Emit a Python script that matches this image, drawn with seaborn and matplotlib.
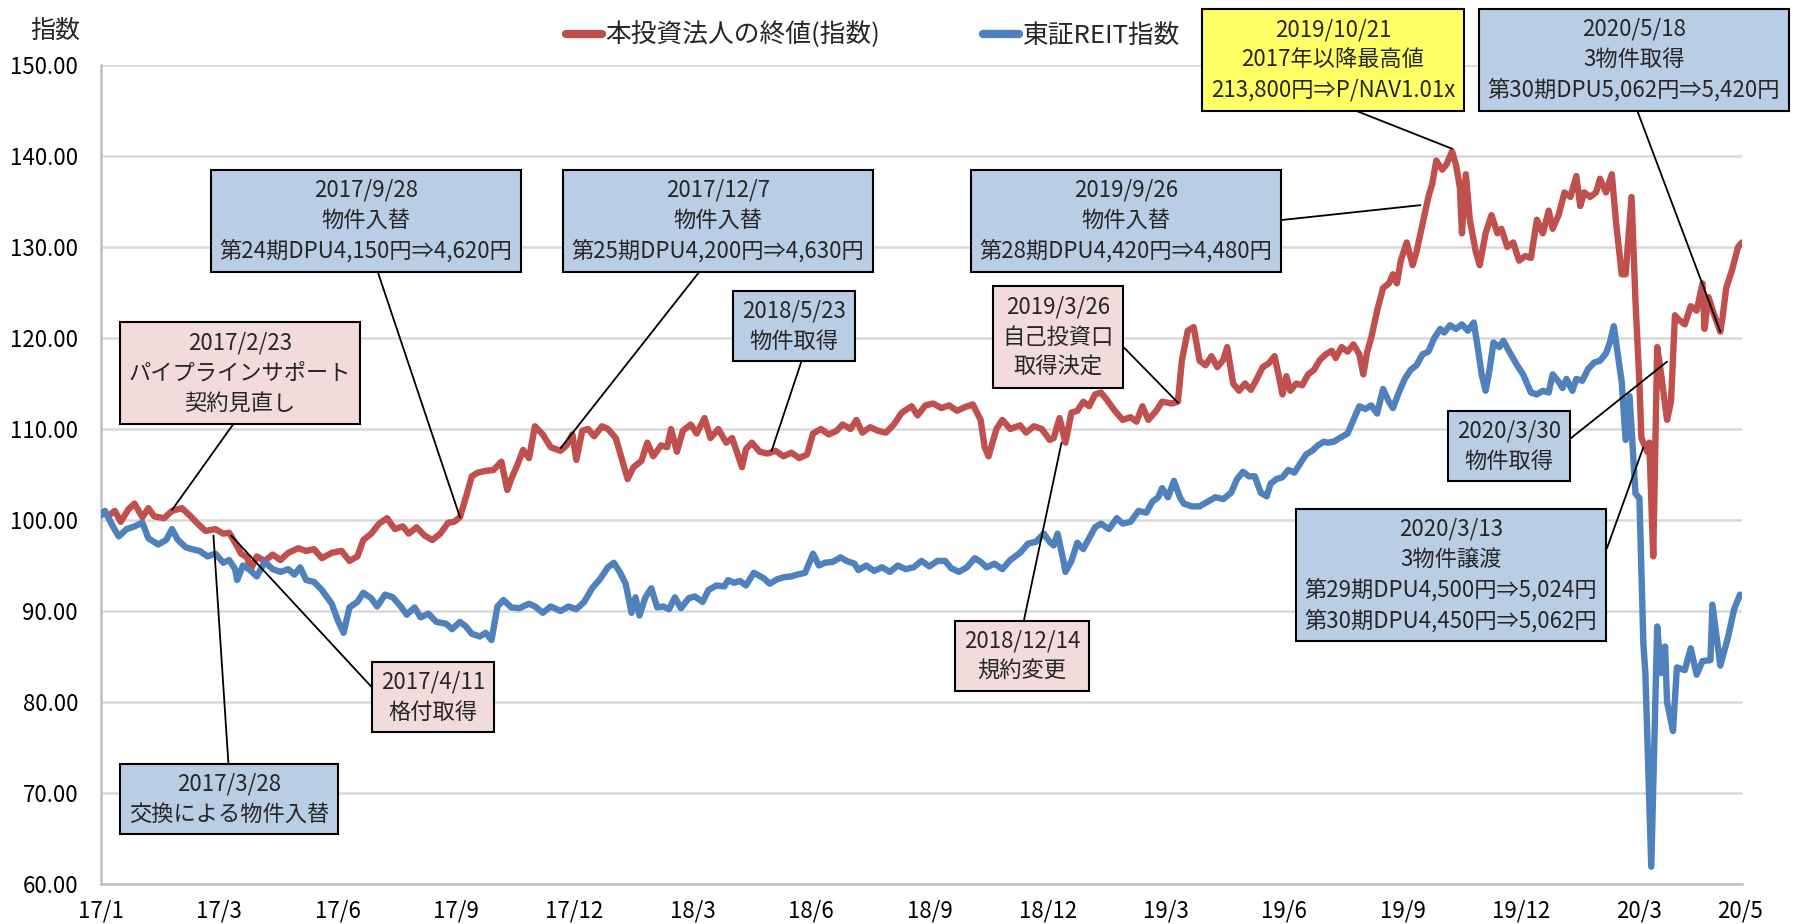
import matplotlib
matplotlib.use("Agg")
import matplotlib.pyplot as plt
import seaborn as sns
import pandas as pd
from matplotlib.ticker import FuncFormatter

# 見た目の設定
sns.set_theme(style="whitegrid")
plt.rcParams['font.family'] = ['Noto Sans CJK JP', 'DejaVu Sans']

# --- データ (営業日番号, 指数) ---
red_day = [0, 4, 7, 10, 14, 17, 21, 24, 27, 32, 36, 41, 45, 49, 53, 58, 62, 65, 68, 71,
           74, 76, 79, 83, 87, 91, 95, 100, 104, 108, 112, 117, 122, 126, 130, 133, 137, 141, 145, 149,
           153, 156, 160, 164, 168, 172, 176, 179, 182, 185, 188, 191, 195, 199, 203, 206, 208, 211, 214, 217,
           220, 224, 228, 233, 236, 239, 241, 244, 247, 250, 254, 257, 261, 265, 267, 270, 274, 277, 280, 284,
           287, 289, 292, 295, 299, 302, 306, 309, 313, 317, 320, 325, 327, 330, 334, 338, 342, 346, 350, 354,
           358, 361, 365, 369, 373, 376, 380, 383, 386, 390, 394, 398, 402, 406, 411, 414, 418, 422, 426, 430,
           434, 438, 442, 446, 448, 450, 454, 457, 461, 466, 469, 473, 477, 481, 483, 486, 489, 492, 495, 498,
           501, 504, 507, 510, 514, 518, 522, 525, 528, 531, 535, 538, 543, 546, 548, 551, 554, 557, 560, 563,
           566, 569, 571, 574, 577, 580, 583, 586, 589, 592, 595, 597, 599, 601, 603, 606, 609, 612, 615, 618,
           621, 624, 626, 629, 632, 635, 638, 640, 642, 644, 647, 650, 653, 655, 657, 659, 662, 665, 667, 670,
           673, 675, 677, 680, 682, 685, 687, 689, 690, 692, 694, 697, 699, 702, 705, 708, 710, 713, 716, 719,
           722, 725, 728, 731, 734, 736, 739, 742, 745, 748, 750, 752, 755, 758, 760, 763, 766, 768, 771, 773,
           776, 778, 780, 781, 784, 785, 787, 789, 791, 794, 796, 798, 800, 803, 806, 809, 812, 813, 815, 818,
           821, 822, 824, 827, 830, 832]
red_val = [100.8, 100.5, 101.0, 99.8, 101.2, 101.8, 100.3, 101.3, 100.4, 100.2, 101.0, 101.3, 100.5, 99.6, 98.8, 99.0, 98.5, 98.6, 97.5, 96.3,
           95.9, 94.6, 96.0, 95.5, 96.2, 95.6, 96.4, 96.9, 96.6, 96.8, 95.8, 96.4, 96.6, 95.5, 96.0, 97.8, 98.5, 99.6, 100.2, 99.0,
           99.3, 98.5, 99.2, 98.3, 97.8, 98.5, 99.7, 99.8, 100.3, 102.5, 104.8, 105.2, 105.4, 105.5, 106.4, 103.3, 104.5, 106.0, 107.7, 106.8,
           110.3, 109.4, 108.0, 107.6, 108.2, 109.4, 106.6, 109.8, 110.0, 109.2, 110.3, 110.0, 109.0, 106.0, 104.5, 105.8, 106.5, 108.5, 107.0, 108.2,
           108.0, 110.0, 107.5, 109.8, 110.5, 109.5, 111.2, 109.0, 110.0, 108.5, 109.0, 105.8, 107.8, 108.5, 107.5, 107.3, 107.6, 107.0, 107.4, 106.8,
           107.2, 109.5, 110.0, 109.4, 109.8, 110.5, 110.0, 111.0, 109.6, 110.2, 109.8, 109.6, 110.5, 111.8, 112.5, 111.5, 112.6, 112.8, 112.3, 112.6,
           112.0, 112.4, 112.7, 111.0, 108.0, 107.0, 110.0, 111.0, 110.0, 110.4, 109.6, 110.3, 110.0, 108.8, 109.0, 111.2, 108.5, 111.8, 112.0, 113.0,
           112.5, 113.8, 114.0, 113.2, 112.0, 111.0, 111.3, 110.8, 112.5, 111.0, 112.0, 113.0, 112.8, 113.0, 117.5, 120.8, 121.2, 117.5, 117.0, 118.0,
           116.8, 117.6, 119.0, 115.0, 114.2, 115.0, 114.3, 115.5, 116.8, 117.2, 118.0, 116.0, 113.8, 115.8, 114.2, 115.0, 114.8, 116.0, 116.5, 117.6,
           118.2, 118.6, 117.8, 119.0, 118.5, 119.3, 118.2, 116.0, 118.5, 120.0, 123.0, 125.5, 126.0, 127.0, 126.0, 128.5, 130.5, 128.0, 129.5, 132.5,
           135.5, 137.0, 139.5, 138.5, 139.0, 140.5, 139.0, 136.5, 131.5, 138.0, 133.0, 129.5, 128.0, 131.5, 133.5, 131.5, 132.0, 130.0, 130.5, 128.5,
           129.0, 128.8, 133.0, 131.5, 134.0, 132.0, 133.5, 136.0, 135.5, 137.8, 134.5, 136.0, 135.5, 136.0, 137.5, 136.0, 138.0, 133.0, 127.0, 127.0,
           135.5, 124.0, 115.0, 109.0, 107.5, 108.5, 96.0, 119.0, 116.0, 111.0, 113.0, 122.5, 122.0, 121.5, 123.5, 123.0, 126.0, 121.0, 124.5, 122.5,
           120.7, 122.0, 125.5, 127.5, 130.0, 130.5]

reit_day = [0, 2, 6, 9, 13, 17, 21, 24, 29, 33, 36, 39, 43, 46, 50, 54, 58, 62, 65, 68,
            69, 72, 75, 79, 83, 87, 91, 95, 98, 101, 104, 108, 112, 117, 120, 123, 126, 130, 133, 137,
            140, 144, 148, 152, 155, 159, 162, 166, 170, 175, 178, 182, 185, 188, 192, 195, 198, 201, 204, 208,
            212, 217, 220, 224, 228, 233, 237, 241, 245, 249, 253, 257, 260, 263, 266, 269, 271, 273, 276, 279,
            282, 285, 288, 291, 294, 298, 301, 305, 308, 312, 316, 318, 321, 324, 327, 331, 336, 339, 343, 346,
            350, 353, 357, 361, 364, 367, 371, 375, 378, 382, 384, 388, 392, 396, 400, 404, 408, 412, 416, 420,
            424, 428, 431, 435, 439, 443, 446, 449, 453, 457, 461, 466, 470, 474, 478, 481, 483, 485, 488, 489,
            492, 495, 498, 501, 504, 507, 511, 515, 518, 522, 526, 530, 533, 536, 538, 541, 544, 547, 549, 553,
            557, 561, 565, 569, 573, 576, 579, 582, 585, 588, 591, 593, 596, 599, 602, 605, 608, 611, 614, 617,
            620, 622, 625, 628, 632, 635, 638, 641, 644, 647, 650, 653, 655, 658, 661, 664, 667, 670, 673, 676,
            679, 681, 684, 687, 690, 693, 696, 698, 700, 702, 704, 706, 709, 711, 714, 718, 721, 725, 728, 731,
            734, 736, 739, 741, 743, 746, 748, 751, 754, 757, 760, 763, 765, 767, 771, 773, 775, 778, 780, 782,
            783, 786, 789, 791, 793, 794, 797, 799, 803, 806, 809, 812, 816, 817, 821, 825, 828, 831]
reit_val = [100.5, 101.0, 99.3, 98.2, 99.0, 99.3, 99.7, 98.0, 97.3, 97.8, 99.0, 97.8, 97.0, 96.8, 96.6, 96.0, 96.3, 95.3, 95.6, 94.6,
            93.4, 95.0, 94.6, 93.8, 95.4, 94.6, 94.3, 94.6, 94.0, 94.8, 93.4, 93.2, 92.3, 90.8, 89.0, 87.6, 90.4, 91.0, 92.0, 91.4,
            90.5, 91.8, 91.5, 90.5, 89.6, 90.4, 89.3, 89.7, 88.8, 88.6, 88.0, 88.8, 88.3, 87.5, 87.2, 87.6, 86.8, 90.5, 91.2, 90.4,
            90.3, 90.8, 90.5, 89.8, 90.5, 90.0, 90.5, 90.2, 91.0, 92.5, 93.5, 94.8, 95.3, 94.3, 93.0, 89.8, 91.5, 89.5, 91.5, 92.5,
            90.4, 90.5, 90.2, 91.5, 90.3, 91.4, 91.6, 91.0, 92.3, 92.8, 92.7, 93.4, 93.1, 93.3, 92.8, 94.2, 93.6, 93.0, 93.5, 93.7,
            93.8, 94.0, 94.2, 96.3, 95.0, 95.3, 95.4, 95.9, 95.5, 95.2, 94.5, 95.0, 94.4, 94.8, 94.3, 95.0, 94.6, 94.8, 95.5, 94.9,
            95.5, 95.5, 94.7, 94.3, 94.8, 95.8, 95.4, 94.8, 95.2, 94.6, 95.6, 96.4, 97.4, 97.6, 98.5, 97.6, 97.2, 98.5, 95.5, 94.3,
            95.5, 97.5, 96.8, 98.0, 99.2, 99.6, 99.0, 100.2, 99.6, 99.8, 101.0, 100.8, 102.0, 102.5, 103.5, 102.5, 104.3, 102.5, 101.8, 101.5,
            101.5, 102.0, 102.5, 102.3, 103.0, 104.5, 105.3, 104.8, 104.8, 103.0, 102.6, 104.0, 104.5, 104.7, 105.5, 105.2, 106.2, 107.2, 107.6, 108.2,
            108.6, 108.5, 108.6, 109.0, 109.5, 111.0, 112.5, 112.2, 112.6, 111.7, 114.4, 113.0, 112.3, 114.0, 115.5, 116.5, 117.0, 118.2, 118.5, 120.0,
            121.0, 120.6, 121.4, 121.0, 121.5, 120.8, 121.7, 119.0, 116.0, 114.2, 116.5, 119.5, 119.0, 119.7, 118.5, 117.0, 116.0, 114.0, 113.8, 114.2,
            114.0, 116.0, 115.2, 114.5, 115.5, 114.2, 115.5, 115.3, 116.6, 117.3, 117.5, 118.3, 119.5, 121.3, 115.2, 108.8, 113.6, 102.9, 102.4, 86.4,
            83.2, 61.9, 88.3, 83.2, 86.1, 80.0, 76.8, 83.8, 83.5, 85.9, 83.0, 84.5, 84.6, 90.7, 84.0, 87.2, 90.2, 91.8]

series_names = ['本投資法人の終値(指数)', '東証REIT指数']

tick_day = [0, 60, 120, 180, 240, 300, 360, 420, 480, 540, 600, 660, 720, 780, 831]
tick_label = ['17/1', '17/3', '17/6', '17/9', '17/12', '18/3', '18/6', '18/9', '18/12',
              '19/3', '19/6', '19/9', '19/12', '20/3', '20/5']

# イベント (テキスト, 営業日番号, 指数)
note_text = [
    '2017/2/23\nパイプラインサポート\n契約見直し',
    '2017/3/28\n交換による物件入替',
    '2017/4/11\n格付取得',
    '2017/9/28\n物件入替\n第24期DPU4,150円⇒4,620円',
    '2017/12/7\n物件入替\n第25期DPU4,200円⇒4,630円',
    '2018/5/23\n物件取得',
    '2018/12/14\n規約変更',
    '2019/3/26\n自己投資口\n取得決定',
    '2019/9/26\n物件入替\n第28期DPU4,420円⇒4,480円',
    '2019/10/21\n2017年以降最高値\n213,800円⇒P/NAV1.01x',
    '2020/3/13\n3物件譲渡\n第29期DPU4,500円⇒5,024円\n第30期DPU4,450円⇒5,062円',
    '2020/3/30\n物件取得',
    '2020/5/18\n3物件取得\n第30期DPU5,062円⇒5,420円',
]
note_day = [36, 57, 66, 182, 233, 340, 487, 546, 669, 685, 782, 794, 821]
note_val = [101.1, 98.3, 98.3, 100.3, 107.9, 107.6, 108.5, 112.9, 134.6, 140.8, 108.0, 117.4, 120.7]

# 吹き出しのレイアウト (中心位置 px, 塗り, 引出線の起点)
PINK, BLUE_BOX, YELLOW = '#F2DCDB', '#B9CDE5', '#FFFF66'
note_layout = [
    ((240, 551), PINK, (0.5, 0)),
    ((229, 125), BLUE_BOX, (0.5, 1)),
    ((433, 227), PINK, (0, 0.5)),
    ((366, 703), BLUE_BOX, (0.53, 0)),
    ((718, 703), BLUE_BOX, (0.46, 0)),
    ((794, 598), BLUE_BOX, (0.6, 0)),
    ((1022, 268), PINK, (0.5, 1)),
    ((1058, 587), PINK, (1, 0.5)),
    ((1126, 703), BLUE_BOX, (1, 0.5)),
    ((1333, 864), YELLOW, (0.5, 0)),
    ((1451, 349), BLUE_BOX, (1, 0.5)),
    ((1509, 478), BLUE_BOX, (1, 0.5)),
    ((1634, 864), BLUE_BOX, (0.5, 0)),
]

RED = '#C0504D'
BLUE = '#4F81BD'

red_df = pd.DataFrame({'day': red_day, 'value': red_val})
reit_df = pd.DataFrame({'day': reit_day, 'value': reit_val})

fig = plt.figure(figsize=(17.93, 9.24), dpi=100)
ax = fig.add_axes([101 / 1793, 40 / 924, 1641 / 1793, 819 / 924])

sns.lineplot(data=red_df, x='day', y='value', color=RED, lw=4.6, ax=ax,
             label=series_names[0], solid_joinstyle='round', solid_capstyle='round', zorder=3)
sns.lineplot(data=reit_df, x='day', y='value', color=BLUE, lw=4.6, ax=ax,
             label=series_names[1], solid_joinstyle='round', solid_capstyle='round', zorder=3)

ax.set_xlim(0, 832)
ax.set_ylim(60, 150)
ax.set_yticks(range(60, 151, 10))
ax.yaxis.set_major_formatter(FuncFormatter(lambda v, p: f'{v:.2f}'))
ax.set_xticks(tick_day)
ax.set_xticklabels(tick_label)
ax.set_xlabel('')
ax.set_ylabel('')

ax.xaxis.grid(False)
ax.yaxis.grid(True, color='#D9D9D9', lw=1.8)
for side in ['top', 'right']:
    ax.spines[side].set_visible(False)
for side in ['left', 'bottom']:
    ax.spines[side].set_color('#BFBFBF')
    ax.spines[side].set_linewidth(1.8)

ax.tick_params(axis='y', length=4.5, width=1.5, color='#BFBFBF', pad=12, labelsize=16, labelcolor='black')
ax.tick_params(axis='x', length=0, pad=11, labelsize=16, labelcolor='black')

ax.legend(loc='center', bbox_to_anchor=(0.487, 0.962), bbox_transform=fig.transFigure,
          ncol=2, frameon=False, fontsize=18.5, handlelength=1.4, handletextpad=0.15,
          columnspacing=4.0)
for line in ax.get_legend().get_lines():
    line.set_linewidth(6)

fig.text(55 / 1793, 1 - 31 / 924, '指数', ha='center', va='center', fontsize=18)

for text, d, v, (pos, fill, rel) in zip(note_text, note_day, note_val, note_layout):
    ax.annotate(text, xy=(d, v), xycoords='data', xytext=pos, textcoords='figure pixels',
                ha='center', va='center', multialignment='center', fontsize=16,
                linespacing=1.4, zorder=5, annotation_clip=False,
                bbox=dict(boxstyle='square,pad=0.4', fc=fill, ec='black', lw=1.5),
                arrowprops=dict(arrowstyle='-', color='black', lw=1.3, relpos=rel,
                                shrinkA=0, shrinkB=0))

fig.savefig('out.png', dpi=100)
